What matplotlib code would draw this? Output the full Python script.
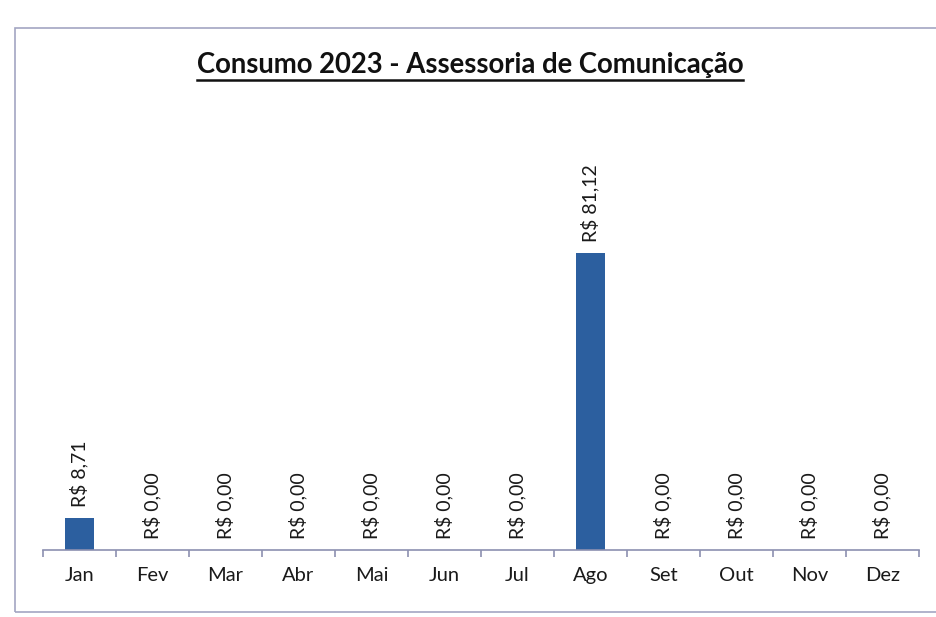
import matplotlib
matplotlib.use("Agg")
import matplotlib.pyplot as plt
from matplotlib.patches import Rectangle
from matplotlib.lines import Line2D

months = ["Jan", "Fev", "Mar", "Abr", "Mai", "Jun", "Jul", "Ago", "Set", "Out", "Nov", "Dez"]
values = [8.71, 0, 0, 0, 0, 0, 0, 81.12, 0, 0, 0, 0]
title = "Consumo 2023 - Assessoria de Comunicação"

def brl(v):
    return "R$ " + f"{v:.2f}".replace(".", ",")

plt.rcParams['font.family'] = ['Lato', 'DejaVu Sans']
W, H = 937, 617
fig = plt.figure(figsize=(W / 100, H / 100), dpi=100)
fig.patch.set_facecolor("white")

# outer chart frame
fig.add_artist(Rectangle((15 / W, 1 - 612 / H), (W + 10 - 15) / W, (612 - 28) / H,
                         transform=fig.transFigure, fill=False, edgecolor="#a3a6c2", lw=1.2))

left, right, bottom_px = 43, 919, 550
ymax = 90
px_per_unit = 3.66
ax = fig.add_axes([left / W, (H - bottom_px) / H, (right - left) / W, ymax * px_per_unit / H])
x = list(range(len(months)))
bars = ax.bar(x, values, width=0.4, color="#2c5f9f")
ax.set_xlim(-0.5, len(months) - 0.5)
ax.set_ylim(0, ymax)
for s in ["top", "right", "left"]:
    ax.spines[s].set_visible(False)
ax.spines["bottom"].set_color("#8c90b0")
ax.spines["bottom"].set_linewidth(1.2)
ax.set_yticks([])
ax.set_xticks([i - 0.5 for i in range(len(months) + 1)], minor=False)
ax.set_xticklabels([])
ax.tick_params(axis="x", which="major", length=5, color="#8c90b0", width=1.2, direction="out")
ax.set_xticks(x, minor=True)
ax.set_xticklabels(months, minor=True, fontsize=14.5, color="#1a1a1a")
ax.tick_params(axis="x", which="minor", length=0, pad=12)

for xi, v in zip(x, values):
    ax.annotate(brl(v), (xi, v), xytext=(0, 8), textcoords="offset points",
                rotation=90, ha="center", va="bottom", fontsize=14, color="#1a1a1a")

t = fig.text(470 / W, 1 - 73 / H, title, ha="center", va="baseline",
             fontsize=18, fontweight="bold", color="#111111")
fig.canvas.draw()
r = fig.canvas.get_renderer()
bb = t.get_window_extent(r)
t.set_fontsize(18 * 550 / bb.width)
fig.canvas.draw()
bb = t.get_window_extent(r)
fig.add_artist(Line2D([bb.x0 / W, bb.x1 / W], [1 - 80 / H, 1 - 80 / H],
                      transform=fig.transFigure, color="#111111", lw=1.8))

fig.savefig("out.png", dpi=100, facecolor="white")
